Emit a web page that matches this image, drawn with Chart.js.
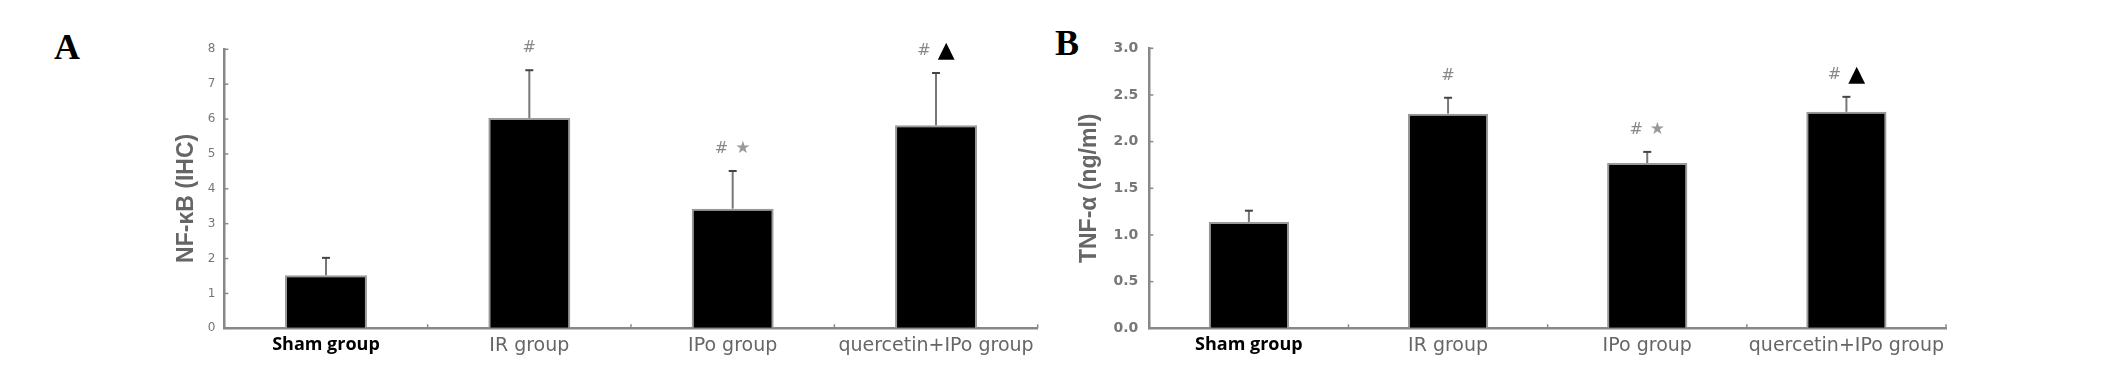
<!DOCTYPE html>
<html lang="en">
<head>
<meta charset="UTF-8">
<title>NF-κB and TNF-α by group</title>
<script src="https://cdn.jsdelivr.net/npm/chart.js"></script>
<style>
  body { margin: 0; background: #fff; width: 2126px; height: 368px; position: relative; overflow: hidden; }
  .panel { position: absolute; top: 0; width: 1063px; height: 368px; }
  .letter { position: absolute; font: bold 36px "Liberation Serif", "Times New Roman", serif; line-height: 1; color: #000; }
</style>
</head>
<body>
<div class="letter" style="left:54px;top:29px">A</div>
<div class="letter" style="left:1055px;top:25px">B</div>
<div class="panel" style="left:0"><canvas id="chartA" width="1063" height="368"></canvas></div>
<div class="panel" style="left:1063px"><canvas id="chartB" width="1063" height="368"></canvas></div>

<script>
// data
const groups = ['Sham group', 'IR group', 'IPo group', 'quercetin+IPo group'];
const nfkbMean = [1.52, 6.03, 3.43, 5.82];
const nfkbSD = [0.50, 1.37, 1.08, 1.50];
const tnfMean = [1.14, 2.30, 1.77, 2.32];
const tnfSD = [0.12, 0.17, 0.12, 0.16];
const signif = ['', '#', '# ★', '# ▲'];
const nfkbTicks = ['0', '1', '2', '3', '4', '5', '6', '7', '8'];
const tnfTicks = ['0.0', '0.5', '1.0', '1.5', '2.0', '2.5', '3.0'];

const AXIS = '#888';

// error bars, small inner ticks and significance marks
const extras = {
  id: 'extras',
  afterDatasetsDraw(chart, args, opts) {
    const ctx = chart.ctx;
    const x = chart.scales.x, y = chart.scales.y;
    const meta = chart.getDatasetMeta(0);
    const means = chart.data.datasets[0].data;
    ctx.save();

    // y ticks pointing inward
    ctx.strokeStyle = AXIS;
    ctx.lineWidth = 1.5;
    y.ticks.forEach(t => {
      const py = y.getPixelForValue(t.value);
      ctx.beginPath();
      ctx.moveTo(chart.chartArea.left, py);
      ctx.lineTo(chart.chartArea.left + 4, py);
      ctx.stroke();
    });
    // x ticks at category boundaries
    for (let i = 0; i <= groups.length; i++) {
      const px = x.getPixelForValue(i - 0.5);
      ctx.beginPath();
      ctx.moveTo(px, chart.chartArea.bottom);
      ctx.lineTo(px, chart.chartArea.bottom - 4);
      ctx.stroke();
    }

    meta.data.forEach((bar, i) => {
      const top = y.getPixelForValue(means[i] + opts.errors[i]);
      ctx.strokeStyle = '#777';
      ctx.lineWidth = 2;
      ctx.beginPath();
      ctx.moveTo(bar.x, bar.y);
      ctx.lineTo(bar.x, top);
      ctx.stroke();
      ctx.strokeStyle = '#444';
      ctx.beginPath();
      ctx.moveTo(bar.x - 4, top);
      ctx.lineTo(bar.x + 4, top);
      ctx.stroke();

      const parts = signif[i] ? signif[i].split(' ') : [];
      if (!parts.length) return;
      const styles = parts.map(p => p === '▲'
        ? { font: '22px "DejaVu Sans"', color: '#000' }
        : p === '★'
          ? { font: '17px "DejaVu Sans"', color: '#999' }
          : { font: '16px "DejaVu Sans"', color: '#888' });
      const gap = 7;
      const widths = parts.map((p, k) => { ctx.font = styles[k].font; return ctx.measureText(p).width; });
      const total = widths.reduce((a, b) => a + b, 0) + gap * (parts.length - 1);
      let cx = bar.x - total / 2;
      const my = top - opts.markGap;
      ctx.textBaseline = 'middle';
      ctx.textAlign = 'left';
      parts.forEach((p, k) => {
        ctx.font = styles[k].font;
        ctx.fillStyle = styles[k].color;
        ctx.fillText(p, cx, my);
        cx += widths[k] + gap;
      });
    });
    ctx.restore();
  }
};

function makeChart(id, o) {
  return new Chart(document.getElementById(id), {
    type: 'bar',
    data: {
      labels: groups,
      datasets: [{
        data: o.means,
        backgroundColor: '#000',
        borderColor: '#999',
        borderWidth: 2,
        borderSkipped: 'bottom',
        barPercentage: 0.403,
        categoryPercentage: 1
      }]
    },
    options: {
      responsive: false,
      animation: false,
      layout: { padding: { left: 0, right: o.padRight, top: o.padTop, bottom: 9.7 } },
      plugins: {
        legend: { display: false },
        tooltip: { enabled: false },
        extras: { errors: o.errors, markGap: 22 }
      },
      scales: {
        x: {
          afterFit(s) { s.height = 30; },
          border: { color: AXIS, width: 2.5 },
          grid: { drawOnChartArea: false, drawTicks: false },
          ticks: {
            padding: 6,
            autoSkip: false,
            maxRotation: 0,
            minRotation: 0,
            color: c => c.index === 0 ? '#000' : '#666',
            font: c => c.index === 0
              ? { family: '"Open Sans"', size: 18, weight: 'bold' }
              : { family: '"DejaVu Sans"', size: 19 }
          }
        },
        y: {
          min: 0,
          max: o.max,
          afterFit(s) { s.width = o.axisLeft; },
          border: { color: AXIS, width: 2.5 },
          grid: { drawOnChartArea: false, drawTicks: false },
          ticks: {
            stepSize: o.step,
            padding: o.tickPad,
            color: '#777',
            font: o.tickFont,
            callback: (v, i) => o.tickLabels[i]
          },
          title: {
            display: true,
            text: o.title,
            color: '#666',
            font: { family: '"Liberation Sans"', size: 23, weight: 'bold' },
            padding: { top: o.titleX - 13.8, bottom: 0 }
          }
        }
      }
    },
    plugins: [extras]
  });
}

makeChart('chartA', {
  means: nfkbMean, errors: nfkbSD, max: 8, step: 1, tickLabels: nfkbTicks,
  title: 'NF-κB (IHC)   ', axisLeft: 224.3, titleX: 186.7, tickPad: 9,
  tickFont: { family: '"DejaVu Sans"', size: 12 },
  padRight: 25.3, padTop: 49.3
});
makeChart('chartB', {
  means: tnfMean, errors: tnfSD, max: 3, step: 0.5, tickLabels: tnfTicks,
  title: 'TNF-α (ng/ml)', axisLeft: 86.3, titleX: 26.3, tickPad: 11,
  tickFont: { family: '"DejaVu Sans"', size: 14, weight: 'bold' },
  padRight: 180, padTop: 48.3
});
</script>
</body>
</html>
